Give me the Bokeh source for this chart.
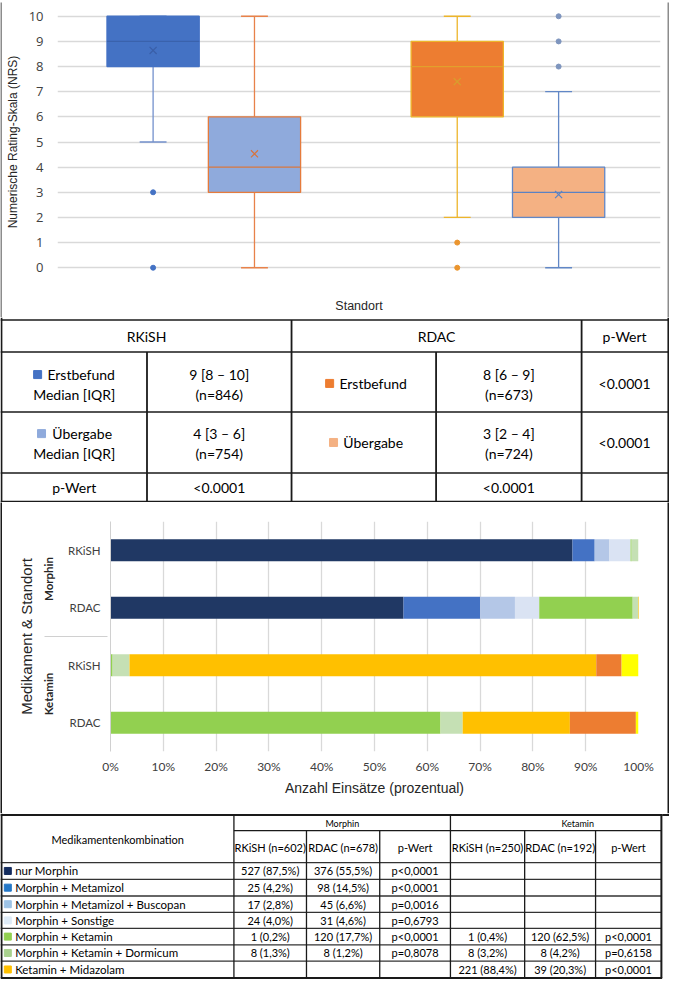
from bokeh.plotting import figure
from bokeh.layouts import column, row
from bokeh.models import (Range1d, FactorRange, FixedTicker, PrintfTickFormatter,
                          ColumnDataSource)
from bokeh.core.properties import value
from bokeh.embed import file_html
from bokeh.resources import INLINE

# ---------------------------------------------------------------- data
# Box plot: NRS per site and time point
box_names = ["RKiSH Erstbefund", "RKiSH Übergabe", "RDAC Erstbefund", "RDAC Übergabe"]
box_q1 = [8, 3, 6, 2]
box_median = [9, 4, 8, 3]
box_q3 = [10, 6, 9, 4]
box_low = [5, 0, 2, 0]
box_high = [10, 10, 10, 7]
box_mean = [8.64, 4.53, 7.40, 2.91]
box_outliers = [[3, 0], [], [1, 0], [8, 9, 10]]
nrs_ticks = [0, 1, 2, 3, 4, 5, 6, 7, 8, 9, 10]

# Table 1
t1_sites = ["RKiSH", "RDAC"]
t1_erst = ["9 [8 – 10]", "8 [6 – 9]"]
t1_erst_n = ["(n=846)", "(n=673)"]
t1_ueber = ["4 [3 – 6]", "3 [2 – 4]"]
t1_ueber_n = ["(n=754)", "(n=724)"]
t1_p_rows = ["<0.0001", "<0.0001"]
t1_p_sites = ["<0.0001", "<0.0001"]

# Stacked bars (percent of operations)
bar_cats = [("Morphin", "RKiSH"), ("Morphin", "RDAC"), ("Ketamin", "RKiSH"), ("Ketamin", "RDAC")]
bar_nur_morphin = [87.5, 55.5, 0.0, 0.0]
bar_metamizol = [4.2, 14.5, 0.0, 0.0]
bar_buscopan = [2.8, 6.6, 0.0, 0.0]
bar_sonstige = [4.0, 4.6, 0.0, 0.0]
bar_ketamin = [0.2, 17.7, 0.4, 62.5]
bar_dormicum = [1.3, 1.2, 3.2, 4.2]
bar_midazolam = [0.0, 0.0, 88.4, 20.3]
bar_extra_orange = [0.0, 0.0, 4.8, 12.5]
bar_extra_yellow = [0.0, 0.0, 3.2, 0.5]
pct_ticks = [0, 10, 20, 30, 40, 50, 60, 70, 80, 90, 100]

# Table 2
t2_rows = ["nur Morphin", "Morphin + Metamizol", "Morphin + Metamizol + Buscopan",
           "Morphin + Sonstige", "Morphin + Ketamin", "Morphin + Ketamin + Dormicum",
           "Ketamin + Midazolam"]
t2_groups = ["Morphin", "Ketamin"]
t2_headers = ["RKiSH (n=602)", "RDAC (n=678)", "p-Wert", "RKiSH (n=250)", "RDAC (n=192)", "p-Wert"]
t2_m_rkish = ["527 (87,5%)", "25 (4,2%)", "17 (2,8%)", "24 (4,0%)", "1 (0,2%)", "8 (1,3%)", ""]
t2_m_rdac = ["376 (55,5%)", "98 (14,5%)", "45 (6,6%)", "31 (4,6%)", "120 (17,7%)", "8 (1,2%)", ""]
t2_m_p = ["p<0,0001", "p<0,0001", "p=0,0016", "p=0,6793", "p<0,0001", "p=0,8078", ""]
t2_k_rkish = ["", "", "", "", "1 (0,4%)", "8 (3,2%)", "221 (88,4%)"]
t2_k_rdac = ["", "", "", "", "120 (62,5%)", "8 (4,2%)", "39 (20,3%)"]
t2_k_p = ["", "", "", "", "p<0,0001", "p=0,6158", "p<0,0001"]

# ---------------------------------------------------------------- styles
box_fill = ["#4472C4", "#8FAADC", "#ED7D31", "#F4B183"]
box_edge = ["#4472C4", "#E57B3C", "#EDB52B", "#6187C6"]
box_whisk = ["#7391CC", "#E8824A", "#EDB52B", "#6187C6"]
box_med = ["#3A62AC", "#D9773E", "#E2A02C", "#5B82C2"]
box_meanc = ["#3A5FA8", "#D9733A", "#D6A12E", "#5B84C4"]
box_outc = ["#4472C4", "#8FAADC", "#EB952E", "#7E95BE"]
bar_colors = ["#203864", "#4472C4", "#B4C7E7", "#DAE3F3", "#92D050", "#C5E0B4",
              "#FFC000", "#ED7D31", "#FFFF00"]
t1_colors = [["#4472C4", "#8FAADC"], ["#ED7D31", "#F4B183"]]
t2_colors = ["#142C5E", "#2477C7", "#9DC3E6", "#DEEBF7", "#92D050", "#A9D18E", "#FFC000"]

W = 669
H1, H2, H3, H4 = 317, 185, 311, 166
TF = "Lato"
GRAY_B = "#8C8C8C"
DARK_B = "#1A1A1A"


def edge(w, h, color):
    e = figure(width=w, height=h, x_axis_location=None, y_axis_location=None,
               min_border=0, toolbar_location=None, output_backend="svg",
               background_fill_color=color, border_fill_color=color)
    e.outline_line_color = None
    e.grid.visible = False
    e.frame_align = False
    return e


def txt(p, xs, ys, texts, size, align="center", font=TF, color="#000000", style="normal"):
    p.text(x=xs, y=ys, text=texts, text_align=align, text_baseline="middle",
           text_font=value(font), text_font_size=size, text_color=color,
           text_font_style=style)


def table_fig(h, y0, y1):
    p = figure(width=W, height=h, x_range=Range1d(0, 685), y_range=Range1d(y1, y0),
               x_axis_location=None, y_axis_location=None, min_border=0,
               toolbar_location=None, output_backend="svg")
    p.grid.visible = False
    p.outline_line_color = None
    p.frame_align = False
    return p


# ---------------------------------------------------------------- box plot
box_x = [g * 3 + k + 1 for g in range(2) for k in range(2)]
BOX_W = 0.91
CAP_W = 0.265

p1 = figure(width=W - 4, height=H1 - 2, x_range=Range1d(0.057, 6.005),
            y_range=Range1d(-0.15, 10.15),
            toolbar_location=None, output_backend="svg",
            min_border_left=52, min_border_right=7, min_border_top=10, min_border_bottom=46)
p1.frame_align = False
p1.outline_line_color = None
p1.xgrid.visible = False
p1.ygrid.ticker = FixedTicker(ticks=nrs_ticks)
p1.ygrid.grid_line_color = "#D9D9D9"
p1.ygrid.grid_line_width = 1.3
p1.yaxis.ticker = FixedTicker(ticks=nrs_ticks)
p1.yaxis.axis_line_color = None
p1.yaxis.major_tick_line_color = None
p1.yaxis.minor_tick_line_color = None
p1.yaxis.major_label_standoff = 8
p1.yaxis.major_label_text_font = "Open Sans"
p1.yaxis.major_label_text_font_size = "13px"
p1.yaxis.major_label_text_color = "#404040"
p1.yaxis.axis_label = "Numerische Rating-Skala (NRS)"
p1.yaxis.axis_label_text_font = "Liberation Sans"
p1.yaxis.axis_label_text_font_size = "12px"
p1.yaxis.axis_label_text_font_style = "normal"
p1.yaxis.axis_label_text_color = "#262626"
p1.yaxis.axis_label_standoff = 6
p1.xaxis.ticker = FixedTicker(ticks=[])
p1.xaxis.axis_line_color = None
p1.xaxis.major_tick_line_color = None
p1.xaxis.minor_tick_line_color = None
p1.xaxis.major_label_text_font_size = "0px"
p1.xaxis.major_tick_out = 0
p1.xaxis.major_label_standoff = 0
p1.xaxis.axis_label = "Standort"
p1.xaxis.axis_label_text_font = "Liberation Sans"
p1.xaxis.axis_label_text_font_size = "12.5px"
p1.xaxis.axis_label_text_font_style = "normal"
p1.xaxis.axis_label_text_color = "#262626"
p1.xaxis.axis_label_standoff = 27

p1.segment(x0=box_x, y0=box_low, x1=box_x, y1=box_q1, line_color=box_whisk, line_width=1.3)
p1.segment(x0=box_x, y0=box_q3, x1=box_x, y1=box_high, line_color=box_whisk, line_width=1.3)
cx0 = [x - CAP_W / 2 for x in box_x]
cx1 = [x + CAP_W / 2 for x in box_x]
p1.segment(x0=cx0, y0=box_low, x1=cx1, y1=box_low, line_color=box_whisk, line_width=1.3)
p1.segment(x0=cx0, y0=box_high, x1=cx1, y1=box_high, line_color=box_whisk, line_width=1.3)
p1.vbar(x=box_x, width=BOX_W, bottom=box_q1, top=box_q3, fill_color=box_fill,
        line_color=box_edge, line_width=1.3)
mx0 = [x - BOX_W / 2 for x in box_x]
mx1 = [x + BOX_W / 2 for x in box_x]
p1.segment(x0=mx0, y0=box_median, x1=mx1, y1=box_median, line_color=box_med, line_width=1.3)
p1.scatter(x=box_x, y=box_mean, marker="x", size=10, line_color=box_meanc, line_width=1.2)
ox, oy, oc = [], [], []
for i, outs in enumerate(box_outliers):
    for v in outs:
        ox.append(box_x[i])
        oy.append(v)
        oc.append(box_outc[i])
p1.scatter(x=ox, y=oy, marker="circle", size=5, fill_color=oc, line_color=oc)

panel1 = column(edge(W, 2, GRAY_B),
                row(edge(2, H1 - 2, GRAY_B), p1, edge(2, H1 - 2, GRAY_B), spacing=0),
                spacing=0)

# ---------------------------------------------------------------- table 1
p2 = table_fig(H2, 322, 510)
LC = "#1A1A1A"
hx0 = [0, 0, 0, 0, 0]
hx1 = [685, 685, 685, 685, 685]
hy = [324.5, 357, 418, 480, 509]
p2.segment(x0=hx0, y0=hy, x1=hx1, y1=hy, line_color=LC, line_width=1.6)
vx = [1, 150, 298, 446, 595, 683.8]
vy0 = [322, 357, 324.5, 357, 324.5, 322]
vy1 = [510, 510, 510, 510, 510, 510]
p2.segment(x0=vx, y0=vy0, x1=vx, y1=vy1, line_color=LC, line_width=1.8)
txt(p2, [149.5, 446.5, 639], [341, 341, 341], t1_sites + ["p-Wert"], "14px")
# RKiSH labels (two lines)
p2.scatter(x=[38, 42], y=[380, 440], marker="square", size=8,
           fill_color=t1_colors[0], line_color=t1_colors[0])
txt(p2, [48, 53], [380, 440], ["Erstbefund", "Übergabe"], "14px", align="left")
txt(p2, [75.5, 75.5], [400, 460], ["Median [IQR]", "Median [IQR]"], "14px")
# RDAC labels
p2.scatter(x=[337, 341], y=[389, 449], marker="square", size=8,
           fill_color=t1_colors[1], line_color=t1_colors[1])
txt(p2, [347, 351], [389, 449], ["Erstbefund", "Übergabe"], "14px", align="left")
# values
vcx = [224, 520.5]
txt(p2, vcx + vcx, [380, 380, 440, 440], t1_erst + t1_ueber, "14px")
txt(p2, vcx + vcx, [400, 400, 460, 460], t1_erst_n + t1_ueber_n, "14px")
txt(p2, [639, 639], [389, 449], t1_p_rows, "14px")
txt(p2, [75.5], [495], ["p-Wert"], "14px")
txt(p2, vcx, [495, 495], t1_p_sites, "14px")

# ---------------------------------------------------------------- stacked bars
bar_keys = ["s0", "s1", "s2", "s3", "s4", "s5", "s6", "s7", "s8"]
bar_vals = [bar_nur_morphin, bar_metamizol, bar_buscopan, bar_sonstige, bar_ketamin,
            bar_dormicum, bar_midazolam, bar_extra_orange, bar_extra_yellow]
src = ColumnDataSource(dict(cat=bar_cats, **{k: v for k, v in zip(bar_keys, bar_vals)}))

p3 = figure(width=W - 4, height=H3, x_range=Range1d(0, 100),
            y_range=FactorRange(*list(reversed(bar_cats)), factor_padding=0,
                                group_padding=0, range_padding=0),
            toolbar_location=None, output_backend="svg",
            min_border_left=108, min_border_right=29, min_border_top=19, min_border_bottom=62)
p3.frame_align = False
p3.outline_line_color = None
p3.ygrid.visible = False
p3.xgrid.ticker = FixedTicker(ticks=pct_ticks)
p3.xgrid.grid_line_color = "#D9D9D9"
p3.xgrid.grid_line_width = 1.3
p3.hbar_stack(bar_keys, y="cat", height=0.385, fill_color=bar_colors, line_color=None,
              source=src)
p3.xaxis.ticker = FixedTicker(ticks=pct_ticks)
p3.xaxis.formatter = PrintfTickFormatter(format="%d%%")
p3.xaxis.axis_line_color = None
p3.xaxis.major_tick_line_color = None
p3.xaxis.minor_tick_line_color = None
p3.xaxis.major_tick_out = 0
p3.xaxis.major_label_standoff = 7
p3.xaxis.major_label_text_font = TF
p3.xaxis.major_label_text_font_size = "12px"
p3.xaxis.major_label_text_color = "#404040"
p3.xaxis.axis_label = "Anzahl Einsätze (prozentual)"
p3.xaxis.axis_label_text_font = "Liberation Sans"
p3.xaxis.axis_label_text_font_size = "14px"
p3.xaxis.axis_label_text_font_style = "normal"
p3.xaxis.axis_label_text_color = "#262626"
p3.xaxis.axis_label_standoff = 3
p3.yaxis.axis_line_color = "#D0D0D0"
p3.yaxis.major_tick_line_color = None
p3.yaxis.major_tick_out = 0
p3.yaxis.major_label_standoff = 10
p3.yaxis.major_label_text_font = TF
p3.yaxis.major_label_text_font_size = "11.5px"
p3.yaxis.major_label_text_color = "#404040"
p3.yaxis.group_text_font = TF
p3.yaxis.group_text_font_size = "11.5px"
p3.yaxis.group_text_font_style = "bold"
p3.yaxis.group_text_color = "#262626"
p3.yaxis.group_label_orientation = "vertical"
p3.yaxis.separator_line_color = "#D0D0D0"
p3.yaxis.separator_line_width = 1
p3.yaxis.axis_label = "Medikament & Standort"
p3.yaxis.axis_label_text_font = "Liberation Sans"
p3.yaxis.axis_label_text_font_size = "15px"
p3.yaxis.axis_label_text_font_style = "normal"
p3.yaxis.axis_label_text_color = "#262626"
p3.yaxis.axis_label_standoff = 4

panel3 = row(edge(2, H3, DARK_B), p3, edge(2, H3, DARK_B), spacing=0)

# ---------------------------------------------------------------- table 2
p4 = table_fig(H4, 826, 995)
row_lines = [876, 893, 910, 926.7, 943, 959.7, 976.3, 993.3]
p4.segment(x0=[0, 0], y0=[827.5, 993.5], x1=[677.5, 677.5], y1=[827.5, 993.5],
           line_color=LC, line_width=2)
p4.segment(x0=[677.5], y0=[827.5], x1=[685], y1=[827.5], line_color=LC, line_width=2)
p4.segment(x0=[683.8], y0=[826], x1=[683.8], y1=[828.5], line_color=LC, line_width=2)
p4.segment(x0=[239], y0=[843.5], x1=[677], y1=[843.5], line_color=LC, line_width=1.3)
p4.segment(x0=[0] * 7, y0=row_lines[:7], x1=[677] * 7, y1=row_lines[:7],
           line_color="#333333", line_width=1.3)
cols = [239, 313.3, 388.3, 460.7, 536.7, 609.3]
cy0 = [827.5, 843.5, 843.5, 827.5, 843.5, 843.5]
p4.segment(x0=cols, y0=cy0, x1=cols, y1=[993.5] * 6, line_color=LC, line_width=1.3)
p4.segment(x0=[1, 676.7], y0=[826, 827.5], x1=[1, 676.7], y1=[993.5, 993.5],
           line_color=LC, line_width=2)
txt(p4, [120], [852.7], ["Medikamentenkombination"], "11px")
txt(p4, [350, 591], [836, 836], t2_groups, "9px")
ccx = [(a + b) / 2 for a, b in zip(cols, cols[1:] + [676.7])]
txt(p4, ccx, [861] * 6, t2_headers, "11px")
rcy = [(a + b) / 2 for a, b in zip(row_lines[:-1], row_lines[1:])]
p4.scatter(x=[7.5] * 7, y=rcy, marker="square", size=7, fill_color=t2_colors,
           line_color=t2_colors)
txt(p4, [15] * 7, rcy, t2_rows, "11.5px", align="left")
for ci, colvals in enumerate([t2_m_rkish, t2_m_rdac, t2_m_p, t2_k_rkish, t2_k_rdac, t2_k_p]):
    txt(p4, [ccx[ci]] * 7, rcy, colvals, "11px")

layout = column(panel1, p2, panel3, p4, spacing=0)
open("out.html", "w").write(file_html(layout, INLINE))
